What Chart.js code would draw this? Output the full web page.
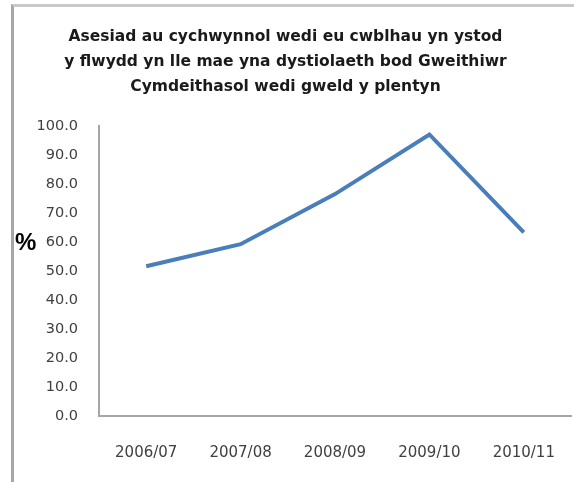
<!DOCTYPE html>
<html>
<head>
<meta charset="utf-8">
<script src="https://cdn.jsdelivr.net/npm/chart.js@4/dist/chart.umd.min.js"></script>
<style>
  html, body { margin: 0; padding: 0; background: #fff; }
  #wrap { position: relative; width: 574px; height: 482px; }
  #frame { position: absolute; left: 11px; top: 4px; width: 580px; height: 475px;
           border-left: 3px solid #a6a6a6; border-top: 3px solid #c8c8c8; border-bottom: 2px solid #d0d0d0; }
  #pct { position: absolute; left: 15px; top: 228px; font: bold 24px "Liberation Sans", Arial, sans-serif; color: #000; }
  canvas { position: absolute; left: 0; top: 0; }
</style>
</head>
<body>
<div id="wrap">
  <div id="frame"></div>
  <canvas id="c" width="574" height="482"></canvas>
  <div id="pct">%</div>
</div>
<script>
const categories = ["2006/07", "2007/08", "2008/09", "2009/10", "2010/11"];
const values = [51.7, 59.3, 76.6, 97.2, 63.4];
const titleLines = [
  "Asesiad au cychwynnol wedi eu cwblhau yn ystod",
  "y flwydd yn lle mae yna dystiolaeth bod Gweithiwr",
  "Cymdeithasol wedi gweld y plentyn"
];
const yMin = 0, yMax = 100, yStep = 10;

new Chart(document.getElementById('c'), {
  type: 'line',
  data: {
    labels: categories,
    datasets: [{
      data: values,
      borderColor: '#4a7ebb',
      borderWidth: 4,
      pointRadius: 0,
      tension: 0,
      fill: false
    }]
  },
  options: {
    responsive: false,
    animation: false,
    layout: { padding: { left: 0, right: 3, top: 0, bottom: 0 } },
    plugins: {
      legend: { display: false },
      tooltip: { enabled: false },
      title: {
        display: true,
        text: titleLines,
        color: '#1a1a1a',
        font: { family: '"DejaVu Sans", sans-serif', size: 15.5, weight: 'bold', lineHeight: 1.62 },
        padding: { top: 24, bottom: 27 }
      }
    },
    scales: {
      x: {
        offset: true,
        grid: { display: false, drawTicks: false },
        border: { display: true, color: '#a6a6a6', width: 2 },
        ticks: { color: '#404040', font: { family: '"DejaVu Sans", sans-serif', size: 15 }, padding: 28, maxRotation: 0 },
        afterFit: s => { s.height = 66; s.paddingLeft = 0; s.paddingRight = 0; }
      },
      y: {
        min: yMin, max: yMax,
        grid: { display: false, drawTicks: false },
        border: { display: true, color: '#a6a6a6', width: 2 },
        ticks: { stepSize: yStep, color: '#404040', font: { family: '"DejaVu Sans", sans-serif', size: 14.5 }, padding: 21,
                 callback: v => Number(v).toFixed(1) },
        afterFit: s => { s.width = 99; }
      }
    }
  }
});
</script>
</body>
</html>
